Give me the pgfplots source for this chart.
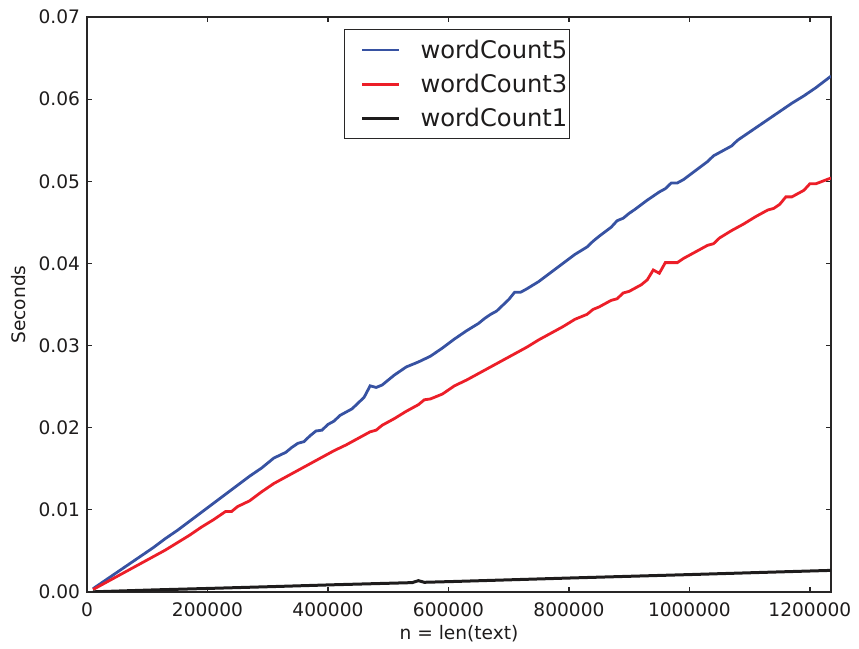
\documentclass[border=0pt]{standalone}
\usepackage{fontspec}
\setmainfont{DejaVu Sans}
\usepackage{pgfplots}
\pgfplotsset{compat=1.18}

\definecolor{wcblue}{RGB}{55,82,162}
\definecolor{wcred}{RGB}{236,30,40}
\definecolor{wcblack}{RGB}{30,28,28}
\definecolor{framegray}{RGB}{40,38,38}

\begin{document}
\begin{tikzpicture}
% fixed page frame around the axis box
\path (-43.5pt,-27.5pt) rectangle (386pt,296pt);
\begin{axis}[
  scale only axis,
  width=372pt, height=287.5pt,
  xmin=0, xmax=1235000,
  ymin=0, ymax=0.07,
  xtick={0,200000,400000,600000,800000,1000000,1200000},
  ytick={0,0.01,0.02,0.03,0.04,0.05,0.06,0.07},
  scaled x ticks=false, scaled y ticks=false,
  /pgf/number format/assume math mode=true,
  xticklabel style={/pgf/number format/fixed, /pgf/number format/precision=0, /pgf/number format/set thousands separator={}, yshift=-2pt},
  yticklabel style={/pgf/number format/fixed, /pgf/number format/fixed zerofill, /pgf/number format/precision=2},
  tick label style={font=\fontsize{9.3}{11}\selectfont, text=wcblack},
  label style={font=\fontsize{9.3}{11}\selectfont, text=wcblack},
  tick align=inside,
  major tick length=2.5pt,
  tick style={framegray, line width=0.6pt},
  axis line style={framegray, line width=0.9pt},
  xlabel={n = len(text)},
  ylabel={Seconds},
  xlabel style={at={(axis description cs:0.5,-0.073)}, anchor=center},
  ylabel style={at={(axis description cs:-0.0914,0.5)}, anchor=center},
  legend cell align=left,
  legend image code/.code={\path (0pt,0pt); \draw[#1] (7pt,0pt) -- (25.5pt,0pt);},
  legend style={
    at={(axis description cs:0.3454,0.979)}, anchor=north west,
    draw=framegray, line width=0.6pt,
    font=\fontsize{12.1}{14}\selectfont,
    inner xsep=1pt, inner ysep=1.6pt,
    row sep=0pt,
    nodes={inner xsep=0pt, inner ysep=0pt, text height=12.85pt, text depth=4.25pt, text=wcblack},
    /tikz/every odd column/.append style={column sep=10pt},
  },
]

% wordCount5
\addplot[wcblue, line width=1.4pt] coordinates {
(10000,0.0004) (30000,0.0014) (50000,0.0024) (70000,0.0034) (90000,0.0044)
(110000,0.0054) (130000,0.0065) (150000,0.0075) (170000,0.0086) (190000,0.0097)
(210000,0.0108) (230000,0.0119) (250000,0.0130) (270000,0.0141) (290000,0.0151)
(300000,0.0157) (310000,0.0163) (330000,0.0170) (340000,0.0176) (350000,0.0181)
(360000,0.0183) (370000,0.0190) (380000,0.0196) (390000,0.0197) (400000,0.0204)
(410000,0.0208) (420000,0.0215) (430000,0.0219) (440000,0.0223) (450000,0.0230)
(460000,0.0237) (470000,0.0251) (480000,0.0249) (490000,0.0252) (500000,0.0258)
(510000,0.0264) (520000,0.0269) (530000,0.0274) (550000,0.0280) (570000,0.0287)
(590000,0.0297) (610000,0.0308) (630000,0.0318) (650000,0.0327) (660000,0.0333)
(670000,0.0338) (680000,0.0342) (690000,0.0349) (700000,0.0356) (710000,0.0365)
(720000,0.0365) (730000,0.0369) (750000,0.0378) (770000,0.0389) (790000,0.0400)
(810000,0.0411) (830000,0.0420) (840000,0.0427) (850000,0.0433) (870000,0.0444)
(880000,0.0452) (890000,0.0455) (900000,0.0461) (910000,0.0466) (930000,0.0477)
(950000,0.0487) (960000,0.0491) (970000,0.0498) (980000,0.0498) (990000,0.0502)
(1010000,0.0513) (1030000,0.0524) (1040000,0.0531) (1050000,0.0535) (1070000,0.0543)
(1080000,0.0550) (1090000,0.0555) (1110000,0.0565) (1130000,0.0575) (1150000,0.0585)
(1170000,0.0595) (1190000,0.0604) (1210000,0.0614) (1235000,0.0628)
};
\addlegendentry{wordCount5}

% wordCount3
\addplot[wcred, line width=1.4pt] coordinates {
(10000,0.0003) (30000,0.0011) (50000,0.0019) (70000,0.0027) (90000,0.0035)
(110000,0.0043) (130000,0.0051) (150000,0.0060) (170000,0.0069) (190000,0.0079)
(210000,0.0088) (230000,0.0098) (240000,0.0098) (250000,0.0104) (270000,0.0111)
(290000,0.0122) (310000,0.0132) (330000,0.0140) (350000,0.0148) (370000,0.0156)
(390000,0.0164) (410000,0.0172) (430000,0.0179) (450000,0.0187) (470000,0.0195)
(480000,0.0197) (490000,0.0203) (510000,0.0211) (530000,0.0220) (550000,0.0228)
(560000,0.0234) (570000,0.0235) (590000,0.0241) (610000,0.0251) (630000,0.0258)
(650000,0.0266) (670000,0.0274) (690000,0.0282) (710000,0.0290) (730000,0.0298)
(750000,0.0307) (770000,0.0315) (790000,0.0323) (810000,0.0332) (830000,0.0338)
(840000,0.0344) (850000,0.0347) (870000,0.0355) (880000,0.0357) (890000,0.0364)
(900000,0.0366) (910000,0.0370) (920000,0.0374) (930000,0.0380) (940000,0.0392)
(950000,0.0388) (960000,0.0401) (980000,0.0401) (990000,0.0406) (1010000,0.0414)
(1030000,0.0422) (1040000,0.0424) (1050000,0.0431) (1070000,0.0440) (1090000,0.0448)
(1110000,0.0457) (1130000,0.0465) (1140000,0.0467) (1150000,0.0472) (1160000,0.0481)
(1170000,0.0481) (1190000,0.0489) (1200000,0.0497) (1210000,0.0497) (1235000,0.0504)
};
\addlegendentry{wordCount3}

% wordCount1
\addplot[wcblack, line width=1.5pt] coordinates {
(10000,0.00002) (110000,0.00025) (210000,0.00045) (310000,0.00066) (410000,0.00088)
(510000,0.00108) (540000,0.00114) (550000,0.00138) (560000,0.00118) (610000,0.00128)
(710000,0.00150) (810000,0.00172) (910000,0.00193) (1010000,0.00214) (1110000,0.00236)
(1235000,0.00263)
};
\addlegendentry{wordCount1}

\end{axis}
\end{tikzpicture}
\end{document}
